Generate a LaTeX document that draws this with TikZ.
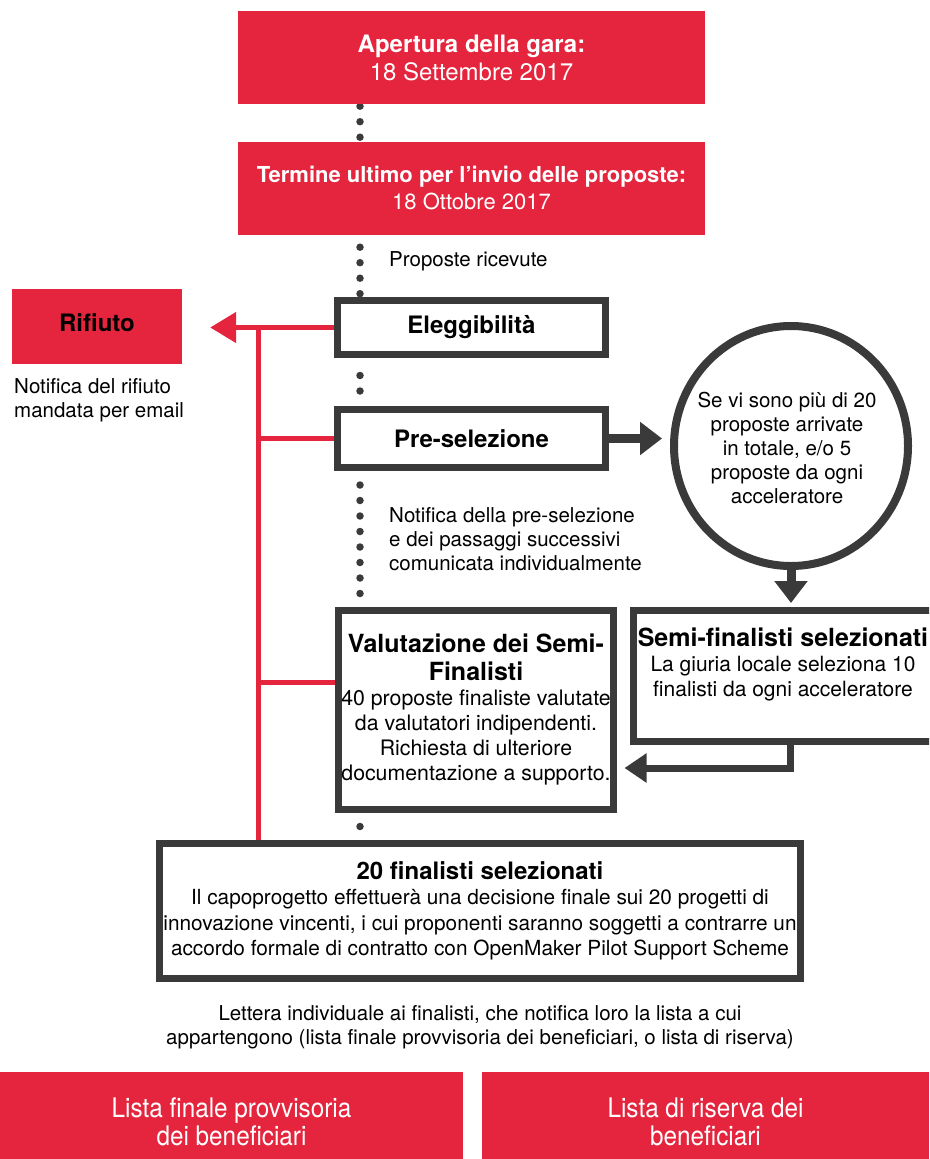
\documentclass[tikz,border=0pt]{standalone}
\usepackage{fontspec}
\setmainfont{TeX Gyre Heros}
\newfontfamily\condfont[FakeStretch=0.9]{TeX Gyre Heros}
\usetikzlibrary{arrows.meta,shapes.geometric,backgrounds}
\definecolor{myred}{HTML}{E4253D}
\definecolor{mygray}{HTML}{3A3A3A}
\newcommand\fsz[2]{\fontsize{#1}{#2}\selectfont}
\newcommand\ttl{\bfseries\fsz{24}{27}}
\newcommand\vttl{\bfseries\fsz{25}{28}}
\begin{document}
\begin{tikzpicture}[x=1pt,y=-1pt,
  redbox/.style={fill=myred, draw=none, text=white, align=center, inner sep=0pt},
  graybox/.style={draw=mygray, line width=7pt, fill=white, align=center, inner sep=0pt},
  redline/.style={draw=myred, line width=5pt},
  darkarrow/.style={draw=mygray, line width=9pt, -{Triangle[length=22pt,width=32pt]}},
  elbowarrow/.style={draw=mygray, line width=7pt, -{Triangle[length=22pt,width=28pt]}},
  dotline/.style={draw=mygray, line width=7.5pt, line cap=round, dash pattern=on 0pt off 15.5pt},
  bodytext/.style={font=\fsz{20.5}{24}, align=left, inner sep=0pt, text=black},
  boldbig/.style={font=\bfseries\fsz{24}{27}}
]
\useasboundingbox (0,0) rectangle (929,1159);
\clip (0,0) rectangle (929,1159);

% top red boxes
\node[redbox, minimum width=467pt, minimum height=93pt, font=\fsz{24}{28}] (open) at (471.5,57.5)
  {\textbf{Apertura della gara:}\\18 Settembre 2017};
\node[redbox, minimum width=467pt, minimum height=93pt, font=\fsz{22}{27}] (term) at (471.5,188.5)
  {\textbf{Termine ultimo per l’invio delle proposte:}\\18 Ottobre 2017};

\node[bodytext, anchor=west] (ricev) at (389,261) {Proposte ricevute};

% rifiuto
\node[redbox, minimum width=170pt, minimum height=75pt] (rif) at (97,326.5) {};
\node[boldbig, inner sep=0pt] (riftxt) at (97,323) {Rifiuto};
\node[bodytext, anchor=west] (rifnote) at (14,400) {Notifica del rifiuto\\mandata per email};

% gray boxes
\node[graybox, minimum width=268pt, minimum height=54pt, boldbig] (eleg) at (471.5,327.5) {Eleggibilità};
\node[graybox, minimum width=268pt, minimum height=58pt, boldbig] (pre) at (471.5,438.5) {Pre-selezione};

\node[bodytext, anchor=west] (prenote) at (389,539)
  {Notifica della pre-selezione\\e dei passaggi successivi\\comunicata individualmente};

\node[ellipse, draw=mygray, line width=8pt, fill=white, minimum width=234pt, minimum height=240pt,
      inner sep=0pt] (circ) at (791,446) {};
\node[align=center, inner sep=0pt, font=\fsz{20.5}{24.2}] (circtxt) at (787,448)
  {Se vi sono più di 20\\proposte arrivate\\in totale, e/o 5\\proposte da ogni\\acceleratore};

\node[graybox, minimum width=275pt, minimum height=199pt, font=\fsz{21.3}{25}] (val) at (476,709.5)
  {\vttl Valutazione dei Semi-\\[3pt]\vttl Finalisti\\40 proposte finaliste valutate\\da valutatori indipendenti.\\Richiesta di ulteriore\\documentazione a supporto.};

\node[graybox, minimum width=305pt, minimum height=131pt] (semi) at (786,676) {};
\node[align=center, inner sep=0pt, font=\fsz{21}{25}] (semitxt) at (783,664)
  {\bfseries\fsz{25}{27}Semi-finalisti selezionati\\La giuria locale seleziona 10\\finalisti da ogni acceleratore};

\node[graybox, minimum width=641pt, minimum height=135pt, font=\fsz{20.8}{25.5}] (fin) at (480,911)
  {\ttl 20 finalisti selezionati\\
   Il capoprogetto effettuerà una decisione finale sui 20 progetti di\\
   innovazione vincenti, i cui proponenti saranno soggetti a contrarre un\\
   accordo formale di contratto con OpenMaker Pilot Support Scheme};

\node[bodytext, align=center] (lettera) at (480,1027)
  {Lettera individuale ai finalisti, che notifica loro la lista a cui\\
   appartengono (lista finale provvisoria dei beneficiari, o lista di riserva)};

\node[redbox, minimum width=463pt, minimum height=100pt, font=\condfont\fsz{27}{28.5}] (listfin) at (231.5,1122)
  {Lista finale provvisoria\\dei beneficiari};
\node[redbox, minimum width=447pt, minimum height=100pt, font=\condfont\fsz{27}{28.5}] (listris) at (705.5,1122)
  {Lista di riserva dei\\beneficiari};

\coordinate (dx) at (360,0);
\coordinate (vx) at (258,0);
\coordinate (rtip) at ([xshift=28pt]rif.east);
\coordinate (elb) at (790,768);

\begin{scope}[on background layer]
  % dotted flow
  \draw[dotline, shorten <=2pt] (open.south -| dx) -- (term.north -| dx);
  \draw[dotline, shorten <=12pt] (term.south -| dx) -- (eleg.north -| dx);
  \draw[dotline, shorten <=17.5pt] (eleg.south -| dx) -- (pre.north -| dx);
  \draw[dotline, shorten <=14pt] (pre.south -| dx) -- (val.north -| dx);
  \draw[dotline, shorten <=14pt] (val.south -| dx) -- (fin.north -| dx);
  % red rejection lines
  \draw[redline, -{Triangle[length=26pt,width=30pt]}] (eleg.west) -- (eleg.west -| rtip);
  \draw[redline, line cap=rect] (vx |- eleg.west) -- (vx |- fin.north);
  \draw[redline] (pre.west) -- (pre.west -| vx);
  \draw[redline] ([yshift=27.5pt]val.west) -- ([yshift=27.5pt]val.west -| vx);
  % dark arrows
  \draw[darkarrow, shorten >=8pt] (pre.east) -- (pre.east -| circ.west);
  \draw[darkarrow, shorten >=4pt] (circ.south) -- (circ.south |- semi.north);
  \draw[elbowarrow] (semi.south -| elb) |- ([xshift=7.5pt]val.east |- elb);
\end{scope}
\end{tikzpicture}
\end{document}
